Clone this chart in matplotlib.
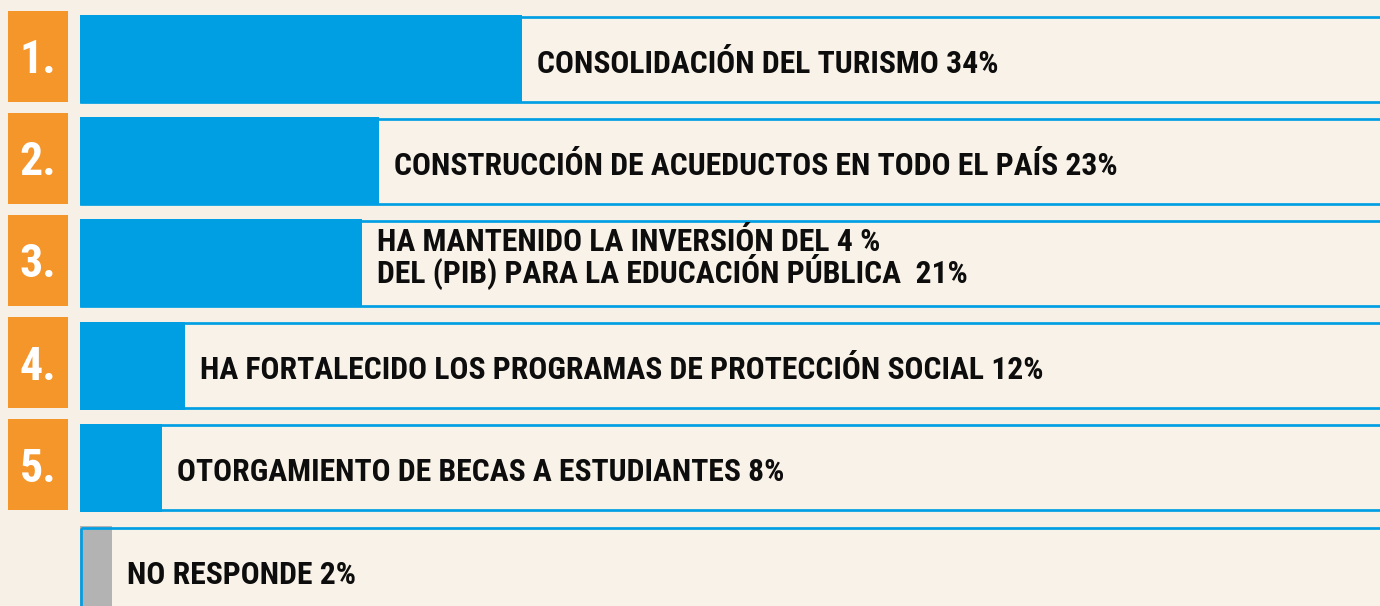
import matplotlib
matplotlib.use("Agg")
import matplotlib.pyplot as plt
from matplotlib import font_manager as fm

# ---------------- data ----------------
ranks = ["1.", "2.", "3.", "4.", "5.", ""]
labels = [
    "CONSOLIDACIÓN DEL TURISMO",
    "CONSTRUCCIÓN DE ACUEDUCTOS EN TODO EL PAÍS",
    "HA MANTENIDO LA INVERSIÓN DEL 4 %\nDEL (PIB) PARA LA EDUCACIÓN PÚBLICA ",
    "HA FORTALECIDO LOS PROGRAMAS DE PROTECCIÓN SOCIAL",
    "OTORGAMIENTO DE BECAS A ESTUDIANTES",
    "NO RESPONDE",
]
percents = [34, 23, 21, 12, 8, 2]
# bar lengths as drawn in the picture (percent scale of the graphic)
drawn_lengths = [34, 23, 21.7, 8.1, 6.3, 2.46]
fill_colors = ["#009fe3", "#009fe3", "#009fe3", "#009fe3", "#009fe3", "#b3b3b3"]

# ---------------- style ----------------
BG = "#f6f0e6"
INNER = "#f9f2e8"
BLUE = "#009fe3"
ORANGE = "#f4962a"
TEXT = "#0d0d0d"

W, H, DPI = 1380, 606, 100
PX_PER_UNIT = 13.0
ROW_PX = 102.2
ROW0_PX = 59.0


def pick_font():
    entries = fm.fontManager.ttflist

    def is_bold(f):
        return f.weight in (700, "bold")

    prefs = ["Roboto Condensed", "Liberation Sans Narrow", "Open Sans Condensed",
             "Noto Sans Condensed", "DejaVu Sans Condensed"]
    for p in prefs:
        for f in entries:
            if f.name == p and is_bold(f) and "Italic" not in f.fname and "Oblique" not in f.fname:
                return f.fname, True
    for f in entries:
        if (("Condensed" in f.fname) or ("Narrow" in f.fname)) and ("Bold" in f.fname) \
                and "Italic" not in f.fname and "Oblique" not in f.fname and "Extra" not in f.fname \
                and "Semi" not in f.fname:
            return f.fname, True
    return None, False


fname, condensed = pick_font()
if condensed:
    def fp(size):
        return fm.FontProperties(fname=fname, size=size)
    label_size = 22.75
else:
    def fp(size):
        return fm.FontProperties(family="Roboto", weight="bold", size=size)
    label_size = 19.0

fig = plt.figure(figsize=(W / DPI, H / DPI), dpi=DPI)
fig.patch.set_facecolor(BG)
ax = fig.add_axes([0, 0, 1, 1])
ax.set_facecolor(BG)
ax.set_xlim(-80 / PX_PER_UNIT, (W - 80) / PX_PER_UNIT)
top = -ROW0_PX / ROW_PX
bottom = (H - ROW0_PX) / ROW_PX
ax.set_ylim(bottom, top)
ax.axis("off")

n = len(labels)
ys = list(range(n))
frame_h = 85 / ROW_PX
fill_h = 88 / ROW_PX
lw = 2.7 * 72 / DPI

# inner cream panels
ax.barh(ys, [200] * n, left=0.04, height=frame_h, color=INNER, zorder=1)
# value fills
ax.barh(ys, drawn_lengths, left=0, height=fill_h, color=fill_colors, zorder=2)
# blue frame outlines
ax.barh(ys, [200] * n, left=0.04, height=frame_h, fill=False,
        edgecolor=BLUE, linewidth=lw, zorder=3)

# orange rank boxes
box_left = (8 - 80) / PX_PER_UNIT
box_w = 60 / PX_PER_UNIT
box_h = 91 / ROW_PX
for y, r in zip(ys, ranks):
    if not r:
        continue
    ax.barh(y - 3 / ROW_PX, box_w, left=box_left, height=box_h, color=ORANGE, zorder=2)
    ax.text(box_left + box_w / 2, y + 14 / ROW_PX, r, color="white",
            fontproperties=fp(33), ha="center", va="baseline", zorder=4)

# labels (va='baseline' aligns the last line's baseline)
gap = 15 / PX_PER_UNIT
for y, lab, p, L in zip(ys, labels, percents, drawn_lengths):
    text = f"{lab} {p}%"
    multi = "\n" in text
    b = 20.0 if multi else 13.5
    ax.text(L + gap, y + b / ROW_PX, text, color=TEXT, fontproperties=fp(label_size),
            ha="left", va="baseline", linespacing=0.92, zorder=4)

fig.savefig("out.png", dpi=DPI, facecolor=BG)
